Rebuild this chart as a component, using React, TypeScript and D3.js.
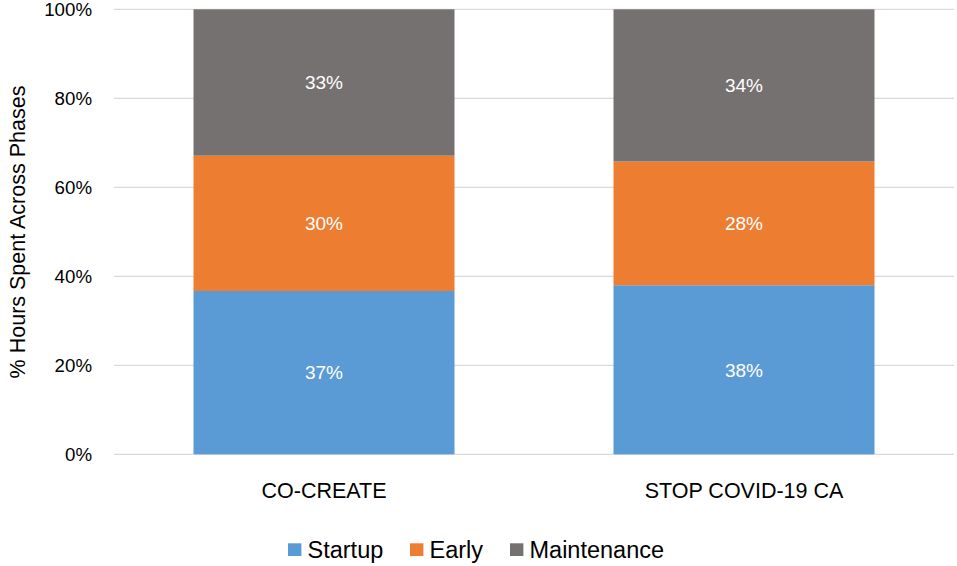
import React from "react";
import * as d3 from "d3";

const categories = ["CO-CREATE", "STOP COVID-19 CA"];
const seriesNames = ["Startup", "Early", "Maintenance"];
const startup = [36.7, 38.0];
const early = [30.4, 27.8];
const maintenance = [32.9, 34.2];
const yTicks = [0, 20, 40, 60, 80, 100];
const colors = ["#5B9BD5", "#ED7D31", "#767171"];

const W = 957;
const H = 566;
const FONT = "'Liberation Sans', Arial, Helvetica, sans-serif";

export default function App() {
  const rows = categories.map((c, i) => ({
    cat: c,
    Startup: startup[i],
    Early: early[i],
    Maintenance: maintenance[i],
  }));
  const stack = d3.stack<any>().keys(seriesNames);
  const layers = stack(rows);

  const p = 159 / 420;
  const x = d3
    .scaleBand<string>()
    .domain(categories)
    .range([114, 954])
    .paddingInner(p)
    .paddingOuter(p / 2);
  const y = d3.scaleLinear().domain([0, 100]).range([454.3, 9.3]);

  const legendX = [288, 410, 510];

  return (
    <svg
      width={W}
      height={H}
      style={{ position: "absolute", left: 0, top: 0, background: "#fff" }}
      fontFamily={FONT}
    >
      {yTicks.map((t) => (
        <g key={t}>
          <line
            x1={114}
            x2={954}
            y1={y(t)}
            y2={y(t)}
            stroke="#D9D9D9"
            strokeWidth={1.3}
          />
          <text
            x={92}
            y={y(t)}
            dy="0.36em"
            textAnchor="end"
            fontSize={18.7}
            fill="#000"
          >
            {t}%
          </text>
        </g>
      ))}
      {layers.map((layer, li) => (
        <g key={layer.key} fill={colors[li]}>
          {layer.map((d, i) => (
            <rect
              key={i}
              x={x(categories[i])}
              width={x.bandwidth()}
              y={y(d[1])}
              height={y(d[0]) - y(d[1])}
            />
          ))}
        </g>
      ))}
      {layers.map((layer) => (
        <g key={layer.key + "-lbl"}>
          {layer.map((d, i) => (
            <text
              key={i}
              x={(x(categories[i]) as number) + x.bandwidth() / 2}
              y={(y(d[0]) + y(d[1])) / 2}
              dy="0.36em"
              textAnchor="middle"
              fontSize={19}
              fill="#fff"
            >
              {Math.round(d[1] - d[0])}%
            </text>
          ))}
        </g>
      ))}
      {categories.map((c) => (
        <text
          key={c}
          x={(x(c) as number) + x.bandwidth() / 2}
          y={498.3}
          textAnchor="middle"
          fontSize={21.5}
          fill="#000"
        >
          {c}
        </text>
      ))}
      <text
        transform="translate(25,232) rotate(-90)"
        textAnchor="middle"
        fontSize={21.5}
        fill="#000"
      >
        % Hours Spent Across Phases
      </text>
      {seriesNames.map((s, i) => (
        <g key={s}>
          <rect x={legendX[i]} y={543.3} width={13.4} height={12.7} fill={colors[i]} />
          <text x={legendX[i] + 19.5} y={558.3} fontSize={23.5} fill="#000">
            {s}
          </text>
        </g>
      ))}
    </svg>
  );
}
